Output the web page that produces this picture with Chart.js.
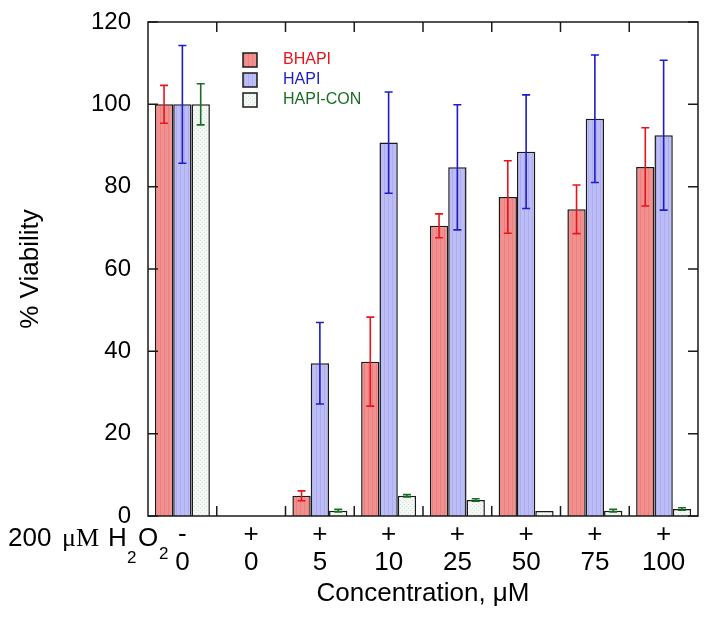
<!DOCTYPE html>
<html>
<head>
<meta charset="utf-8">
<script src="https://cdn.jsdelivr.net/npm/chart.js@4.4.0/dist/chart.umd.min.js"></script>
<style>
  html, body { margin: 0; padding: 0; background: #fff; }
</style>
</head>
<body>
<canvas id="viabilityChart" width="704" height="618"></canvas>
<script>
// data
const concentrations = ['0', '0', '5', '10', '25', '50', '75', '100'];
const peroxide = ['-', '+', '+', '+', '+', '+', '+', '+'];
const yTicks = [0, 20, 40, 60, 80, 100, 120];

const bhapi = [100, 0, 4.9, 37.5, 70.5, 77.5, 74.5, 84.8];
const bhapiErr = [4.6, 0, 1.2, 10.8, 2.9, 8.8, 5.9, 9.5];
const hapi = [100, 0, 37.1, 90.7, 84.7, 88.5, 96.5, 92.5];
const hapiErr = [14.3, 0, 9.9, 12.3, 15.2, 13.8, 15.5, 18.2];
const hapiCon = [100, 0, 1.3, 4.9, 3.9, 1.2, 1.3, 1.7];
const hapiConErr = [5.0, 0, 0.3, 0.3, 0.3, 0, 0.3, 0.3];

const FONT = "'Liberation Sans', Arial, sans-serif";
const SERIF = "'Liberation Serif', 'Times New Roman', serif";

function makePattern(base, mark, kind) {
  const c = document.createElement('canvas');
  c.width = 4; c.height = 4;
  const g = c.getContext('2d');
  g.fillStyle = base;
  g.fillRect(0, 0, 4, 4);
  g.fillStyle = mark;
  if (kind === 'stripe') {
    g.fillRect(0, 0, 1, 4);
  } else {
    g.fillRect(0, 0, 1, 1);
    g.fillRect(2, 2, 1, 1);
  }
  return document.createElement('canvas').getContext('2d').createPattern(c, 'repeat');
}

const series = [
  { label: 'BHAPI', data: bhapi, err: bhapiErr, fill: makePattern('#f29090', '#ea8080', 'stripe'), color: '#e8141c' },
  { label: 'HAPI', data: hapi, err: hapiErr, fill: makePattern('#bcbcf6', '#acacee', 'stripe'), color: '#1c1cc8' },
  { label: 'HAPI-CON', data: hapiCon, err: hapiConErr, fill: makePattern('#f4f8f4', '#d6e4d6', 'dot'), color: '#1a6e22' }
];

const errorBars = {
  id: 'errorBars',
  afterDatasetsDraw(chart) {
    const { ctx, scales: { y } } = chart;
    ctx.save();
    ctx.lineWidth = 1.6;
    series.forEach((s, i) => {
      const meta = chart.getDatasetMeta(i);
      ctx.strokeStyle = s.color;
      meta.data.forEach((bar, j) => {
        const e = s.err[j];
        if (!e) return;
        const top = y.getPixelForValue(s.data[j] + e);
        const bot = y.getPixelForValue(s.data[j] - e);
        ctx.beginPath();
        ctx.moveTo(bar.x, top); ctx.lineTo(bar.x, bot);
        ctx.moveTo(bar.x - 4, top); ctx.lineTo(bar.x + 4, top);
        ctx.moveTo(bar.x - 4, bot); ctx.lineTo(bar.x + 4, bot);
        ctx.stroke();
      });
    });
    ctx.restore();
  }
};

const frame = {
  id: 'frame',
  afterDraw(chart) {
    const { ctx, chartArea: a, scales: { x, y } } = chart;
    ctx.save();
    ctx.strokeStyle = '#1a1a1a';
    ctx.lineWidth = 1.5;
    ctx.strokeRect(a.left, a.top, a.right - a.left, a.bottom - a.top);
    ctx.beginPath();
    yTicks.forEach(v => {
      const py = y.getPixelForValue(v);
      ctx.moveTo(a.left, py); ctx.lineTo(a.left + 10, py);
      ctx.moveTo(a.right, py); ctx.lineTo(a.right - 10, py);
    });
    for (let k = 1; k < concentrations.length; k++) {
      const px = (x.getPixelForValue(k - 1) + x.getPixelForValue(k)) / 2;
      ctx.moveTo(px, a.top); ctx.lineTo(px, a.top + 10);
      ctx.moveTo(px, a.bottom); ctx.lineTo(px, a.bottom - 10);
    }
    ctx.stroke();

    // legend inside the plot
    series.forEach((s, i) => {
      const cy = 60 + i * 20;
      ctx.fillStyle = s.fill;
      ctx.fillRect(243, cy - 7, 14, 14);
      ctx.strokeStyle = '#1a1a1a';
      ctx.lineWidth = 1.5;
      ctx.strokeRect(243, cy - 7, 14, 14);
      ctx.fillStyle = s.color;
      ctx.font = '16px ' + FONT;
      ctx.textBaseline = 'middle';
      ctx.textAlign = 'left';
      ctx.fillText(s.label, 283, cy);
    });

    // row caption left of the tick labels
    ctx.fillStyle = '#000';
    ctx.textBaseline = 'alphabetic';
    ctx.font = '26px ' + FONT;
    ctx.fillText('200', 8, 546);
    ctx.font = '26px ' + SERIF;
    ctx.fillText('\u03bcM', 62, 546);
    ctx.font = '26px ' + FONT;
    ctx.fillText('H', 108, 546);
    ctx.fillText('O', 138, 546);
    ctx.font = '17px ' + FONT;
    ctx.fillText('2', 127, 563);
    ctx.fillText('2', 159, 559);
    ctx.restore();
  }
};

new Chart(document.getElementById('viabilityChart'), {
  type: 'bar',
  data: {
    labels: concentrations.map((c, i) => [peroxide[i], c]),
    datasets: series.map(s => ({
      label: s.label,
      data: s.data,
      backgroundColor: s.fill,
      borderColor: '#1a1a1a',
      borderWidth: 1.5,
      categoryPercentage: 0.8,
      barPercentage: 1.0
    }))
  },
  options: {
    responsive: false,
    animation: false,
    devicePixelRatio: 1,
    layout: { padding: { top: 22, right: 6, left: 0, bottom: 0 } },
    plugins: { legend: { display: false }, tooltip: { enabled: false } },
    scales: {
      x: {
        grid: { display: false, drawTicks: false },
        border: { display: false },
        ticks: { color: '#000', font: { family: FONT, size: 26, lineHeight: 1.08 }, padding: 5, maxRotation: 0, autoSkip: false },
        title: { display: true, text: 'Concentration, \u03bcM', color: '#000', font: { family: FONT, size: 26 }, padding: { top: 0, bottom: 9 } },
        afterFit(scale) { scale.height = 102; }
      },
      y: {
        min: 0,
        max: 120,
        grid: { display: false, drawTicks: false },
        border: { display: false },
        ticks: { stepSize: 20, color: '#000', font: { family: FONT, size: 24 }, padding: 17 },
        title: { display: true, text: '% Viability', color: '#000', font: { family: FONT, size: 26 }, padding: { top: 15, bottom: 0 } },
        afterFit(scale) {
          scale.width = 148;
          scale.paddingTop = 10;
          scale.paddingBottom = 10;
        }
      }
    }
  },
  plugins: [errorBars, frame]
});
</script>
</body>
</html>
